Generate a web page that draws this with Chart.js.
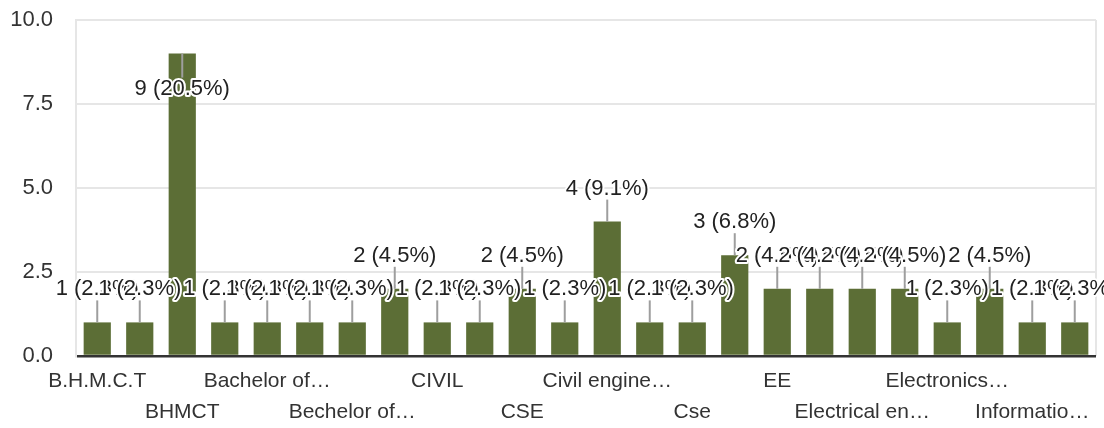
<!DOCTYPE html>
<html lang="en">
<head>
    <meta charset="UTF-8">
    <title>Responses by branch</title>
    <script src="https://cdn.jsdelivr.net/npm/chart.js"></script>
    <style>
        html, body { margin: 0; padding: 0; background: #fff; }
        .chart-box { width: 1104px; height: 428px; position: relative; }
    </style>
</head>
<body>
    <div class="chart-box">
        <canvas id="branchChart"></canvas>
    </div>

    <script>
        // Categories (sorted as in the form summary); only every other one is labelled
        const branches = [
            'B.H.M.C.T', 'B.Tech', 'BHMCT', 'BTech', 'Bachelor of…', 'Bachelors',
            'Bechelor of…', 'Btech', 'CIVIL', 'CIVIL ENGG', 'CSE', 'Civil',
            'Civil engine…', 'Computer Science', 'Cse', 'ECE', 'EE', 'EEE',
            'Electrical en…', 'Electronic Eng.', 'Electronics…', 'IT', 'Informatio…', 'Mechanical'
        ];
        const counts = [1, 1, 9, 1, 1, 1, 1, 2, 1, 1, 2, 1, 4, 1, 1, 3, 2, 2, 2, 2, 1, 2, 1, 1];
        const yTicks = [0, 2.5, 5, 7.5, 10];

        const total = counts.reduce((a, b) => a + b, 0);
        const FONT = '"Liberation Sans", Arial, sans-serif';

        // value labels with leader lines, drawn over the bars
        const valueLabels = {
            id: 'valueLabels',
            afterDatasetsDraw(chart) {
                const ctx = chart.ctx;
                const meta = chart.getDatasetMeta(0);
                const top = chart.chartArea.top;
                ctx.save();
                ctx.font = '22px ' + FONT;
                ctx.textAlign = 'center';
                ctx.textBaseline = 'middle';
                ctx.lineJoin = 'round';
                meta.data.forEach((bar, i) => {
                    const v = counts[i];
                    const text = v + ' (' + (v / total * 100).toFixed(1) + '%)';
                    let ty = bar.y - 33;
                    let lineEnd = bar.y - 22;
                    if (ty - 12 < top + 20) {
                        ty = bar.y + 35;
                        lineEnd = bar.y + 24;
                    }
                    ctx.strokeStyle = '#9e9e9e';
                    ctx.lineWidth = 2;
                    ctx.beginPath();
                    ctx.moveTo(bar.x, bar.y);
                    ctx.lineTo(bar.x, lineEnd);
                    ctx.stroke();

                    ctx.strokeStyle = '#fff';
                    ctx.lineWidth = 4;
                    ctx.strokeText(text, bar.x, ty);
                    ctx.fillStyle = '#222';
                    ctx.fillText(text, bar.x, ty);
                });
                ctx.restore();
            }
        };

        const ctx = document.getElementById('branchChart').getContext('2d');
        new Chart(ctx, {
            type: 'bar',
            data: {
                labels: branches,
                datasets: [{
                    data: counts,
                    backgroundColor: '#5c6e36',
                    barPercentage: 0.64,
                    categoryPercentage: 1
                }]
            },
            options: {
                responsive: true,
                maintainAspectRatio: false,
                animation: false,
                layout: { padding: { top: 20, right: 8, left: 0, bottom: 0 } },
                plugins: {
                    legend: { display: false },
                    tooltip: { enabled: false }
                },
                scales: {
                    x: {
                        grid: {
                            drawTicks: false,
                            // only the closing line at the right edge
                            color: (c) => c.type === 'tick' ? 'rgba(0,0,0,0)' : '#e6e6e6',
                            lineWidth: 2
                        },
                        border: { display: false },
                        ticks: {
                            autoSkip: false,
                            maxRotation: 0,
                            minRotation: 0,
                            padding: 10,
                            color: '#333',
                            font: { family: FONT, size: 21, lineHeight: 1.48 },
                            callback: function (val, i) {
                                if (i % 2) return '';
                                const name = branches[i];
                                return (i / 2) % 2 ? ['', name] : name;
                            }
                        },
                        afterFit(scale) { scale.height = 72; }
                    },
                    y: {
                        min: 0,
                        max: 10,
                        afterBuildTicks(scale) {
                            scale.ticks = yTicks.map(v => ({ value: v }));
                        },
                        grid: {
                            drawTicks: false,
                            color: (c) => c.tick && c.tick.value === 0 ? '#333' : '#e6e6e6',
                            lineWidth: (c) => c.tick && c.tick.value === 0 ? 2.5 : 2
                        },
                        border: { display: true, color: '#e6e6e6', width: 2 },
                        ticks: {
                            padding: 23,
                            color: '#333',
                            font: { family: FONT, size: 22 },
                            callback: (v) => Number(v).toFixed(1)
                        },
                        afterFit(scale) {
                            scale.width = 76;
                            scale.paddingTop = 0;
                            scale.paddingBottom = 0;
                        }
                    }
                }
            },
            plugins: [valueLabels]
        });
    </script>
</body>
</html>
